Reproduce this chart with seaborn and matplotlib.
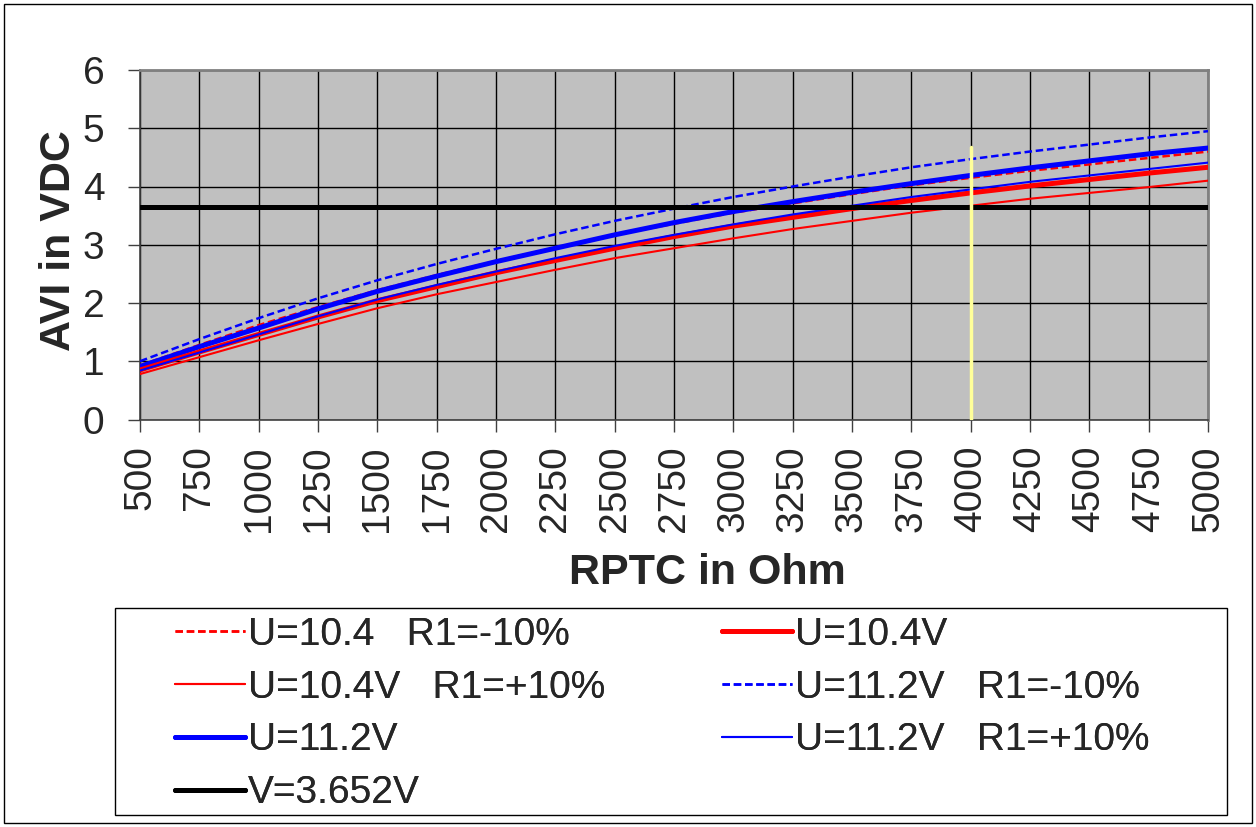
import numpy as np
import pandas as pd
import matplotlib
matplotlib.use("Agg")
import matplotlib.pyplot as plt
from matplotlib.patches import Rectangle
import seaborn as sns

# RPTC values (Ohm)
rptc = [500, 750, 1000, 1250, 1500, 1750, 2000, 2250, 2500, 2750,
        3000, 3250, 3500, 3750, 4000, 4250, 4500, 4750, 5000]

# AVI readings (VDC)
u104_r1_minus = [0.93, 1.28, 1.62, 1.93, 2.22, 2.48, 2.72, 2.95, 3.17, 3.36,
                 3.55, 3.71, 3.87, 4.02, 4.15, 4.27, 4.38, 4.49, 4.60]
u104_nom = [0.85, 1.16, 1.46, 1.76, 2.04, 2.28, 2.52, 2.73, 2.94, 3.14,
            3.32, 3.47, 3.62, 3.76, 3.89, 4.01, 4.12, 4.23, 4.33]
u104_r1_plus = [0.78, 1.07, 1.36, 1.64, 1.91, 2.15, 2.36, 2.57, 2.77, 2.94,
                3.11, 3.27, 3.41, 3.55, 3.67, 3.79, 3.89, 3.99, 4.10]
u112_r1_minus = [1.00, 1.38, 1.74, 2.08, 2.39, 2.67, 2.93, 3.18, 3.41, 3.62,
                 3.82, 4.00, 4.17, 4.33, 4.47, 4.60, 4.72, 4.84, 4.95]
u112_nom = [0.91, 1.25, 1.57, 1.90, 2.20, 2.46, 2.71, 2.94, 3.17, 3.38,
            3.57, 3.74, 3.90, 4.05, 4.19, 4.32, 4.44, 4.56, 4.66]
u112_r1_plus = [0.84, 1.15, 1.46, 1.77, 2.06, 2.31, 2.54, 2.77, 2.98, 3.17,
                3.35, 3.52, 3.67, 3.82, 3.95, 4.08, 4.19, 4.30, 4.41]
threshold = 3.652
marker_x = 4000
marker_top = 4.68

sns.set_theme(style="white")
plt.rcParams["font.family"] = ["Liberation Sans", "DejaVu Sans"]

W, H = 1256, 827
fig = plt.figure(figsize=(W / 100, H / 100), dpi=100)
ax = fig.add_axes([140 / W, 1 - 419.5 / H, 1068 / W, 349.5 / H])
ax.set_facecolor("#C0C0C0")

dash = (0, (3, 1.5))
series = [
    ("U=10.4   R1=-10%", u104_r1_minus, "#FF0000", 1.8, dash),
    ("U=10.4V   R1=+10%", u104_r1_plus, "#FF0000", 1.5, "-"),
    ("U=11.2V", u112_nom, "#0000FF", 3.6, "-"),
    ("U=10.4V", u104_nom, "#FF0000", 3.6, "-"),
    ("U=11.2V   R1=-10%", u112_r1_minus, "#0000FF", 1.8, dash),
    ("U=11.2V   R1=+10%", u112_r1_plus, "#0000FF", 1.5, "-"),
]
draw_order = [1, 3, 5, 0, 2, 4]
handles = {}
for i in draw_order:
    label, vals, color, lw, ls = series[i]
    sns.lineplot(x=rptc, y=vals, ax=ax, color=color, linewidth=lw,
                 linestyle=ls, label=label, legend=False, zorder=3 + i * 0.1)
    handles[i] = ax.lines[-1]

# threshold line
black = ax.axhline(threshold, color="black", linewidth=3.6, zorder=4,
                   label="V=3.652V")
# marker at 4000 Ohm
ax.plot([marker_x, marker_x], [0, marker_top], color="#FFFF99",
        linewidth=2.5, zorder=5)

ax.set_xlim(500, 5000)
ax.set_ylim(0, 6)
ax.set_xticks(rptc)
ax.set_yticks(range(0, 7))
ax.grid(True, color="black", linewidth=1)
ax.set_axisbelow(True)
ax.tick_params(axis="both", direction="out", length=8.5, width=1,
               color="#404040", labelsize=28, left=True, bottom=True)
ax.tick_params(axis="x", rotation=90, pad=10)
ax.tick_params(axis="y", pad=17)
for s in ["left", "bottom"]:
    ax.spines[s].set_color("#404040")
    ax.spines[s].set_linewidth(1.2)
for s in ["top", "right"]:
    ax.spines[s].set_color("#808080")
    ax.spines[s].set_linewidth(2)

ax.set_xlabel("RPTC in Ohm", fontsize=31, fontweight="bold")
ax.set_ylabel("AVI in VDC", fontsize=31, fontweight="bold")
ax.xaxis.set_label_coords(0.531, -0.382)
ax.yaxis.set_label_coords(-0.057, 0.511)

# legend frame and two columns
fig.patches.append(Rectangle((115 / W, 1 - 815 / H), 1112 / W, 207 / H,
                             transform=fig.transFigure, fill=False,
                             edgecolor="black", linewidth=1))
columns = [([handles[0], handles[1], handles[2], black], 175),
           ([handles[3], handles[4], handles[5]], 722)]
for hs, x0 in columns:
    leg = fig.legend(handles=hs, labels=[h.get_label() for h in hs],
                     loc="upper left", bbox_to_anchor=(x0 / W, 1 - 617 / H),
                     fontsize=28, frameon=False, handlelength=1.8,
                     handletextpad=0.08, labelspacing=0.43, borderpad=0,
                     borderaxespad=0)
    fig.add_artist(leg)

fig.patches.append(Rectangle((4 / W, 4 / H), 1248 / W, 819 / H,
                             transform=fig.transFigure, fill=False,
                             edgecolor="black", linewidth=1))

fig.savefig("out.png", dpi=100)
